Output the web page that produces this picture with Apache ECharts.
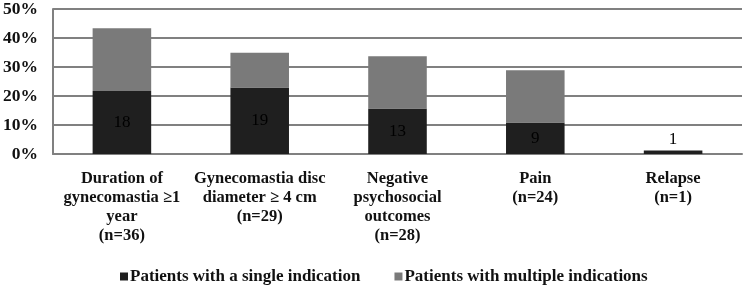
<!DOCTYPE html>
<html lang="en" style="height: 100%">
<head>
  <meta charset="utf-8">
</head>
<body style="height: 100%; margin: 0; background: #fff">
  <div id="container" style="height: 100%"></div>
  <script type="text/javascript" src="https://fastly.jsdelivr.net/npm/echarts@6/dist/echarts.min.js"></script>
  <script type="text/javascript">
// total number of patients, percentages are out of this
var totalPatients = 83;
var categories = [
  'Duration of\ngynecomastia ≥1\nyear\n(n=36)',
  'Gynecomastia disc\ndiameter ≥ 4 cm\n(n=29)',
  'Negative\npsychosocial\noutcomes\n(n=28)',
  'Pain\n(n=24)',
  'Relapse\n(n=1)'
];
var singleCounts = [18, 19, 13, 9, 1];
var multipleCounts = [18, 10, 15, 15, 0];
var seriesNames = ['Patients with a single indication', 'Patients with multiple indications'];

var font = 'Liberation Serif';
var dom = document.getElementById('container');
var myChart = echarts.init(dom, null, { renderer: 'canvas' });

var singleData = singleCounts.map(function (c, i) {
  var item = { value: c / totalPatients * 100, count: c };
  if (i === singleCounts.length - 1) {
    item.label = { position: 'top', distance: 2 };
  }
  return item;
});
var multipleData = multipleCounts.map(function (c) {
  return { value: c / totalPatients * 100, count: c };
});

var option = {
  animation: false,
  textStyle: { fontFamily: font },
  legend: {
    bottom: 0,
    left: 120,
    padding: 0,
    itemWidth: 8,
    itemHeight: 8,
    itemGap: 34,
    icon: 'rect',
    textStyle: { fontFamily: font, fontWeight: 'bold', fontSize: 17, color: '#111', padding: [0, 0, 0, -3] },
    data: seriesNames
  },
  grid: { left: 49, right: 1, top: 5, bottom: 131 },
  xAxis: {
    type: 'category',
    data: categories,
    axisTick: { show: false },
    axisLine: { lineStyle: { color: '#808080', width: 2 } },
    axisLabel: {
      interval: 0,
      margin: 15,
      fontFamily: font,
      fontWeight: 'bold',
      fontSize: 16.5,
      lineHeight: 19,
      color: '#111'
    }
  },
  yAxis: {
    type: 'value',
    min: 0,
    max: 50,
    interval: 10,
    axisLine: { show: true, lineStyle: { color: '#808080', width: 2 } },
    axisTick: { show: false },
    splitLine: { lineStyle: { color: '#808080', width: 2 } },
    axisLabel: {
      formatter: '{value}%',
      margin: 15,
      fontFamily: font,
      fontWeight: 'bold',
      fontSize: 17.5,
      color: '#111'
    }
  },
  series: [
    {
      name: seriesNames[0],
      type: 'bar',
      stack: 'total',
      barWidth: '42.5%',
      data: singleData,
      itemStyle: { color: '#1f1f1f' },
      label: {
        show: true,
        position: 'inside',
        fontFamily: font,
        fontSize: 17,
        color: '#000',
        formatter: function (p) { return p.data.count; }
      }
    },
    {
      name: seriesNames[1],
      type: 'bar',
      stack: 'total',
      data: multipleData,
      itemStyle: { color: '#7a7a7a' }
    }
  ]
};

myChart.setOption(option);
window.addEventListener('resize', myChart.resize);
  </script>
</body>
</html>
